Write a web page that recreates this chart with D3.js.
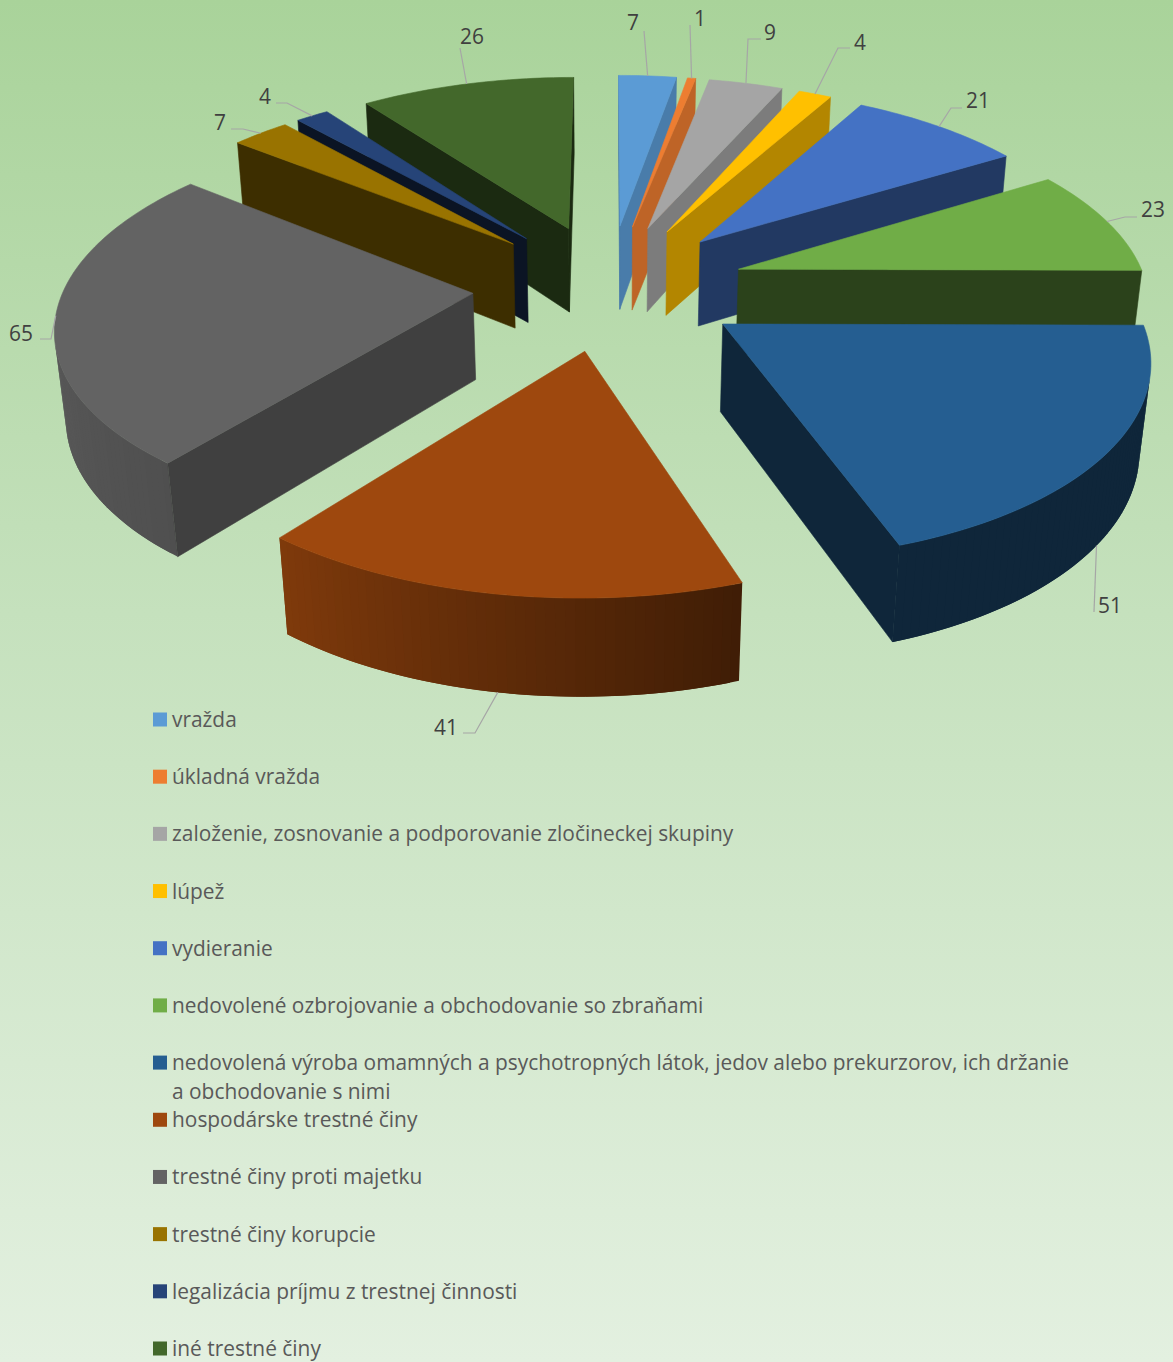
<!DOCTYPE html>
<html><head><meta charset="utf-8">
<script src="https://cdn.jsdelivr.net/npm/d3@7/dist/d3.min.js"></script>
<style>html,body{margin:0;padding:0;background:#fff}svg{display:block}text{font-family:"Open Sans",sans-serif}</style>
</head><body><svg id="c" width="1173" height="1362"></svg>
<script>
const categories=["vražda","úkladná vražda","založenie, zosnovanie a podporovanie zločineckej skupiny","lúpež","vydieranie","nedovolené ozbrojovanie a obchodovanie so zbraňami","nedovolená výroba omamných a psychotropných látok, jedov alebo prekurzorov, ich držanie|a obchodovanie s nimi","hospodárske trestné činy","trestné činy proti majetku","trestné činy korupcie","legalizácia príjmu z trestnej činnosti","iné trestné činy"];
const values=[7,1,9,4,21,23,51,41,65,7,4,26];
const colors=["#5B9BD5","#ED7D31","#A5A5A5","#FFC000","#4472C4","#70AD47","#255E91","#9E480E","#636363","#997300","#264478","#43682B"];
const wallShade=[.8,.8,.75,.7,.5,.38,.4,.4,.65,.4,.3,.4];

// layout: where each value label and its leader elbow sit
const labelPos=[[633,22],[700,18],[770,32],[860,42],[978,100],[1153,209],[1110,605],[446,727],[21,333],[220,122],[265,96],[472,36]];
const leaderBend=[[[644,31]],[[690,25]],[[748,39],[761,39]],[[838,48],[850,48]],[[951,108],[962,108]],[[1125,217],[1137,217]],[[1094,612]],[[475,733],[463,733]],[[51,339],[40,339]],[[243,129],[231,129]],[[287,103],[276,103]],[[460,48]]];
const leaderOnBase=[0,0,0,0,0,0,1,1,0,0,0,0];

const W=1173,H=1362,cx=609,cy=286,R=400,explode=133.5,tilt=.463,depth=86;
const svg=d3.select("#c");
const defs=svg.append("defs");
const g=defs.append("linearGradient").attr("id","bg").attr("x1",0).attr("y1",0).attr("x2",0).attr("y2",1);
[[0,"#A9D39A"],[.45,"#C5E1BD"],[1,"#E3F0E0"]].forEach(s=>g.append("stop").attr("offset",s[0]).attr("stop-color",s[1]));
svg.append("rect").attr("width",W).attr("height",H).attr("fill","url(#bg)");

const project=(u,v,z)=>{const p=1/(.98-.00036*v+.02*z);return [cx+u*p,cy+(tilt*v+depth*z)*p];};
const pie=d3.pie().sort(null).startAngle(0).endAngle(2*Math.PI);
const arcs=pie(values);
const line=d3.line();
const shade=(c,f)=>{const r=d3.rgb(c);return d3.rgb(r.r*f,r.g*f,r.b*f).formatHex();};
const arcShade=d3.scaleLinear().domain([0,1.75,2.81,3.8,4.7,6.3]).range([.4,.4,.4,.8,.92,.9]);
const area=pts=>d3.polygonArea(pts);

const slices=arcs.map((a,i)=>{
  const mid=(a.startAngle+a.endAngle)/2;
  const ox=explode*Math.sin(mid),oy=-explode*Math.cos(mid);
  const pt=(th,r,z)=>project(ox+r*Math.sin(th),oy-r*Math.cos(th),z);
  return {a,i,mid,ox,oy,pt};
}).sort((s,t)=>s.oy-t.oy);

const pieG=svg.append("g");
slices.forEach(s=>{
  const {a,i,pt}=s, c=colors[i], G=pieG.append("g");
  const face=(pts,fill,edge)=>{ if(area(pts)>0){ const f=G.append("path").attr("d",line(pts)+"Z").attr("fill",fill); if(edge) f.attr("stroke",fill).attr("stroke-width",.6);} };
  // radial walls; only the ones turned to the viewer survive the winding test
  const wall=shade(c,wallShade[i]);
  // curved rim: each strip runs on under the next one so no seams show
  const n=Math.max(2,Math.ceil((a.endAngle-a.startAngle)/.02));
  const ths=d3.range(n+1).map(k=>a.startAngle+(a.endAngle-a.startAngle)*k/n);
  d3.pairs(ths).forEach(([t0,t1],k)=>{
    const t2=k<n-1?ths[k+2]:t1;
    face([pt(t0,R,0),pt(t2,R,0),pt(t2,R,1),pt(t0,R,1)],shade(c,arcShade((t0+t1)/2)),false);
  });
  face([pt(a.startAngle,0,0),pt(a.startAngle,R,0),pt(a.startAngle,R,1),pt(a.startAngle,0,1)],wall,true);
  face([pt(a.endAngle,R,0),pt(a.endAngle,0,0),pt(a.endAngle,0,1),pt(a.endAngle,R,1)],wall,true);
  // top
  G.append("path").attr("d",line([pt(a.startAngle,0,0),...ths.map(t=>pt(t,R,0))])+"Z").attr("fill",c).attr("stroke",c).attr("stroke-width",.6);
});

// leaders + labels
const byIndex=d3.index(slices,s=>s.i);
values.forEach((v,i)=>{
  const s=byIndex.get(i);
  const anchor=s.pt(s.mid,R,leaderOnBase[i]);
  svg.append("path").attr("d",line([anchor,...leaderBend[i]])).attr("fill","none").attr("stroke","#A6A6A6").attr("stroke-width",1.2);
  svg.append("text").attr("x",labelPos[i][0]).attr("y",labelPos[i][1]).attr("dy",".36em").attr("text-anchor","middle").attr("font-size",20.9).attr("fill","#404040").text(v);
});

// legend
const rowY=d3.scaleLinear().domain([0,11]).range([719.5,1348.5]);
categories.forEach((t,i)=>{
  const y=rowY(i);
  svg.append("rect").attr("x",153).attr("y",y-7).attr("width",14).attr("height",14).attr("fill",colors[i]);
  const txt=svg.append("text").attr("x",172).attr("y",y).attr("font-size",20.9).attr("fill","#595959");
  t.split("|").forEach((l,k)=>txt.append("tspan").attr("x",172).attr("dy",k?29:".36em").text(l));
});
</script></body></html>
